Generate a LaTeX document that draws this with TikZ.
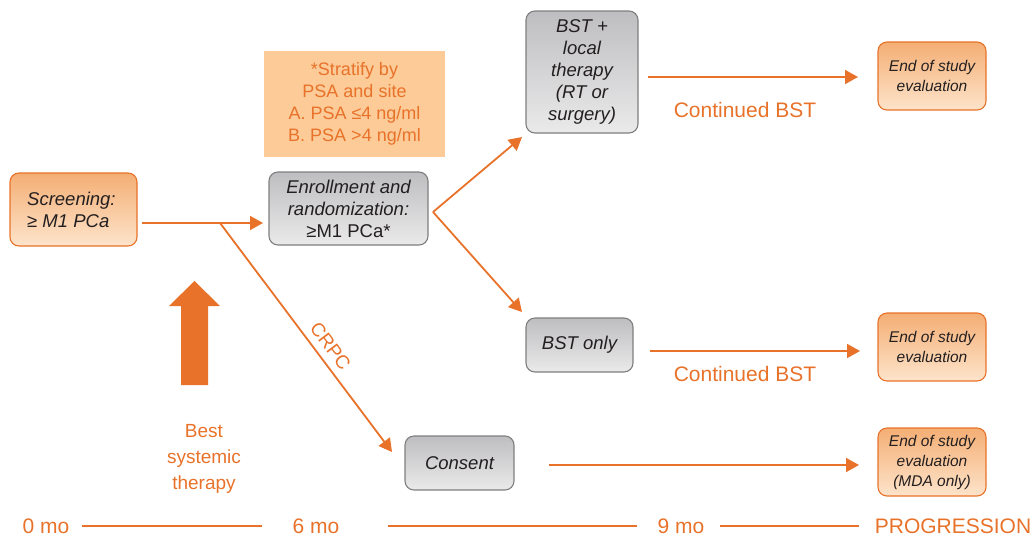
\documentclass[tikz,border=0pt]{standalone}
\usepackage{fontspec}
\setmainfont{Liberation Sans}
\usetikzlibrary{arrows.meta}
\definecolor{org}{HTML}{E8722A}
\definecolor{orgtop}{HTML}{F4AE74}
\definecolor{orgbot}{HTML}{FDE4CB}
\definecolor{graytop}{HTML}{BEBEC0}
\definecolor{graybot}{HTML}{EAEAEB}
\definecolor{grayline}{HTML}{7F7F80}
\definecolor{stratfill}{HTML}{FCCB98}
\definecolor{txt}{HTML}{231F20}
\tikzset{
  obox/.style={draw=org, line width=1.1pt, rounded corners=9pt, top color=orgtop, bottom color=orgbot,
    align=center, inner sep=0pt, text=txt, font=\fontsize{18.5}{22}\selectfont\itshape},
  gbox/.style={draw=grayline, line width=1.1pt, rounded corners=9pt, top color=graytop, bottom color=graybot,
    align=center, inner sep=0pt, text=txt, font=\fontsize{18.5}{22}\selectfont\itshape},
  ebox/.style={obox, minimum width=108pt, minimum height=68pt, font=\fontsize{15.5}{20}\selectfont\itshape},
  conn/.style={draw=org, line width=1.8pt, -{Triangle[length=13pt,width=14pt]}},
  olabel/.style={text=org, inner sep=0pt, font=\fontsize{21}{24}\selectfont},
  tline/.style={draw=org, line width=2pt},
}
\begin{document}
\begin{tikzpicture}[x=1pt,y=-1pt]
\useasboundingbox (0,0) rectangle (1035,536);
% boxes
\node[obox, minimum width=127pt, minimum height=73pt] (scr) at (73.5,209.5) {};
\node[anchor=west, inner sep=0pt, align=left, text=txt, font=\fontsize{18.5}{22}\selectfont\itshape] (scrtxt) at (27,210) {Screening:\\≥ M1 PCa};
\node[fill=stratfill, minimum width=181pt, minimum height=106pt, inner sep=0pt, align=center, text=org,
  font=\fontsize{18}{22}\selectfont] (strat) at (354.5,104) {*Stratify by\\PSA and site\\A. PSA ≤4 ng/ml\\ B. PSA \textgreater4 ng/ml};
\node[gbox, minimum width=159pt, minimum height=73pt] (enr) at (348.5,208.5) {Enrollment and\\randomization:\\{\upshape ≥M1 PCa*}};
\node[gbox, minimum width=112pt, minimum height=122pt] (bst) at (582,72) {BST +\\local\\therapy\\(RT or\\surgery)};
\node[gbox, minimum width=107pt, minimum height=54pt] (bsto) at (579.5,345) {BST only};
\node[gbox, minimum width=109pt, minimum height=54pt] (cons) at (459.5,463) {Consent};
\node[ebox] (end1) at (932,76) {End of study\\evaluation};
\node[ebox] (end2) at (932,347) {End of study\\evaluation};
\node[ebox] (end3) at (932,462) {End of study\\evaluation\\(MDA only)};
% connectors
\coordinate (s1) at (142,223);
\coordinate (e1) at (263,223);
\coordinate (j) at (220,223);
\coordinate (ce) at (392,452);
\coordinate (v) at (433,212);
\coordinate (b1) at (522,137);
\coordinate (b2) at (522,312);
\coordinate (c1s) at (648,77);  \coordinate (c1e) at (858,77);
\coordinate (c2s) at (650,351); \coordinate (c2e) at (860,351);
\coordinate (c3s) at (549,465); \coordinate (c3e) at (859,465);
\draw[conn] (s1) -- (e1);
\draw[conn] (j) -- node[pos=0.574, sloped, above=7pt, olabel, font=\fontsize{19}{22}\selectfont] (crpc) {CRPC} (ce);
\draw[conn] (v) -- (b1);
\draw[conn] (v) -- (b2);
\draw[conn] (c1s) -- (c1e);
\draw[conn] (c2s) -- (c2e);
\draw[conn] (c3s) -- (c3e);
\node[olabel] (cb1) at (745,110) {Continued BST};
\node[olabel] (cb2) at (745,374) {Continued BST};
% big arrow
\fill[org] (181,385) -- (181,306) -- (169,306) -- (194.5,281) -- (220,306) -- (208,306) -- (208,385) -- cycle;
\node[olabel, align=center, font=\fontsize{19}{26}\selectfont] (bsttxt) at (204,459) {Best\\systemic\\therapy};
% timeline
\node[olabel] (t0) at (46,526) {0 mo};
\node[olabel] (t6) at (316,526) {6 mo};
\node[olabel] (t9) at (681,526) {9 mo};
\node[olabel] (tp) at (953,526) {PROGRESSION};
\draw[tline] ([xshift=12pt]t0.east) -- ([xshift=-30pt]t6.west);
\draw[tline] ([xshift=48pt]t6.east) -- ([xshift=-20pt]t9.west);
\draw[tline] ([xshift=15pt]t9.east) -- ([xshift=-16pt]tp.west);
\end{tikzpicture}
\end{document}
